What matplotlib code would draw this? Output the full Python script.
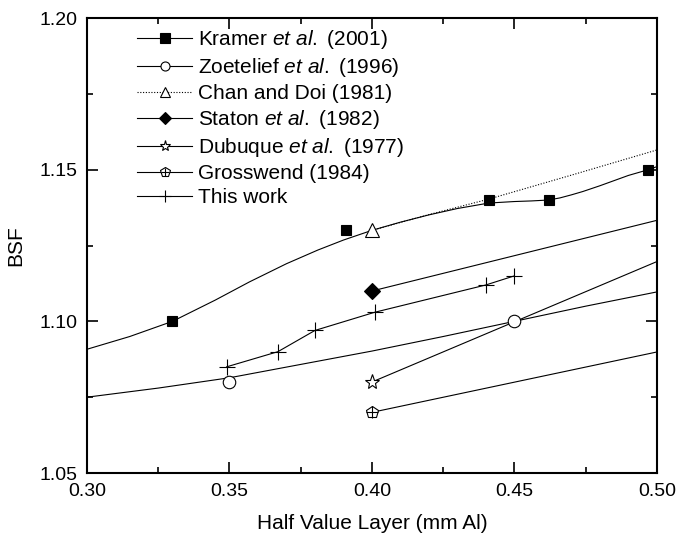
import numpy as np
import matplotlib
matplotlib.use("Agg")
import matplotlib.pyplot as plt
from matplotlib.ticker import MultipleLocator, FormatStrFormatter

plt.rcParams['font.family'] = ['Liberation Sans', 'DejaVu Sans']
plt.rcParams['mathtext.fontset'] = 'custom'
plt.rcParams['mathtext.it'] = 'Liberation Sans:italic'
plt.rcParams['mathtext.rm'] = 'Liberation Sans'

# measured points
kramer_x = [0.330, 0.391, 0.441, 0.462, 0.497]
kramer_y = [1.100, 1.130, 1.140, 1.140, 1.150]
zoet_x = [0.350, 0.450]
zoet_y = [1.080, 1.100]
chan_x = [0.400]
chan_y = [1.130]
staton_x = [0.400]
staton_y = [1.110]
dubuque_x = [0.400]
dubuque_y = [1.080]
gross_x = [0.400]
gross_y = [1.070]
work_x = [0.349, 0.367, 0.380, 0.401, 0.440, 0.450]
work_y = [1.085, 1.090, 1.097, 1.103, 1.112, 1.115]

# fitted curves
kramer_fit_x = [0.300, 0.315, 0.330, 0.345, 0.357, 0.370, 0.381, 0.390, 0.400, 0.410,
                0.420, 0.430, 0.441, 0.450, 0.456, 0.462, 0.466, 0.470, 0.474, 0.480,
                0.490, 0.497, 0.500]
kramer_fit_y = [1.0908, 1.0950, 1.1000, 1.1070, 1.1130, 1.1190, 1.1235, 1.1268, 1.1300, 1.1327,
                1.1351, 1.1372, 1.1390, 1.1395, 1.1397, 1.1400, 1.1407, 1.1417, 1.1428, 1.1447,
                1.1481, 1.1500, 1.1510]
zoet_fit_x = [0.300, 0.325, 0.350, 0.375, 0.400, 0.425, 0.450, 0.475, 0.500]
zoet_fit_y = [1.0750, 1.0780, 1.0814, 1.0858, 1.0902, 1.0950, 1.1000, 1.1050, 1.1097]
chan_fit_x = [0.400, 0.420, 0.441, 0.470, 0.500]
chan_fit_y = [1.1300, 1.1352, 1.1403, 1.1482, 1.1565]
staton_fit_x = [0.400, 0.500]
staton_fit_y = [1.1100, 1.1333]
dubuque_fit_x = [0.400, 0.500]
dubuque_fit_y = [1.0800, 1.1197]
gross_fit_x = [0.400, 0.500]
gross_fit_y = [1.0700, 1.0899]

fig = plt.figure(figsize=(6.76, 5.38), dpi=100)
ax = fig.add_axes([0.1287, 0.1208, 0.843, 0.8457])

lw = 0.8
ms_kw = dict(markeredgecolor='black', markeredgewidth=0.8)

ax.plot(kramer_fit_x, kramer_fit_y, color='black', lw=lw)
ax.plot(zoet_fit_x, zoet_fit_y, color='black', lw=lw)
ax.plot(chan_fit_x, chan_fit_y, color='black', lw=lw, ls=(0, (1, 1.5)))
ax.plot(staton_fit_x, staton_fit_y, color='black', lw=lw)
ax.plot(dubuque_fit_x, dubuque_fit_y, color='black', lw=lw)
ax.plot(gross_fit_x, gross_fit_y, color='black', lw=lw)
ax.plot(work_x, work_y, color='black', lw=lw)

ax.plot(kramer_x, kramer_y, 's', color='black', ms=7.5, **ms_kw)
ax.plot(zoet_x, zoet_y, 'o', mfc='white', ms=9, **ms_kw)
ax.plot(chan_x, chan_y, '^', mfc='white', ms=10, **ms_kw)
ax.plot(staton_x, staton_y, 'D', color='black', ms=8, **ms_kw)
ax.plot(dubuque_x, dubuque_y, '*', mfc='white', ms=11, **ms_kw)
ax.plot(gross_x, gross_y, 'p', mfc='white', ms=9, **ms_kw)
ax.plot(gross_x, gross_y, '+', color='black', ms=8, **ms_kw)
ax.plot(work_x, work_y, '+', color='black', ms=11, **ms_kw)

def leg(marker, mfc, ms, ls='-'):
    return plt.Line2D([], [], color='black', lw=lw, ls=ls, marker=marker,
                      mfc=mfc, mec='black', mew=0.8, ms=ms)

handles = [leg('s', 'black', 6.5),
           leg('o', 'white', 6.5),
           leg('^', 'white', 7.5, ls=(0, (1, 1.5))),
           leg('D', 'black', 6.5),
           leg('*', 'white', 8),
           (leg('p', 'white', 7), leg('+', 'black', 6, ls='none')),
           leg('+', 'black', 8)]
labels = [r'Kramer $et\ al.$ (2001)',
          r'Zoetelief $et\ al.$ (1996)',
          'Chan and Doi (1981)',
          r'Staton $et\ al.$ (1982)',
          r'Dubuque $et\ al.$ (1977)',
          'Grosswend (1984)',
          'This work']
ax.legend(handles, labels, loc='upper left', bbox_to_anchor=(0.063, 1.01),
          frameon=False, fontsize=15, handlelength=2.6, handletextpad=0.3,
          labelspacing=0.24, borderaxespad=0.3)

ax.set_xlim(0.30, 0.50)
ax.set_ylim(1.05, 1.20)
ax.xaxis.set_major_locator(MultipleLocator(0.05))
ax.xaxis.set_minor_locator(MultipleLocator(0.025))
ax.yaxis.set_major_locator(MultipleLocator(0.05))
ax.yaxis.set_minor_locator(MultipleLocator(0.025))
ax.xaxis.set_major_formatter(FormatStrFormatter('%.2f'))
ax.yaxis.set_major_formatter(FormatStrFormatter('%.2f'))
ax.tick_params(which='both', direction='in', top=True, right=True,
               labelsize=14, width=1.2)
ax.tick_params(which='major', length=8, pad=7)
ax.tick_params(which='minor', length=4)
for s in ax.spines.values():
    s.set_linewidth(1.5)

ax.set_xlabel('Half Value Layer (mm Al)', fontsize=15, labelpad=10)
ax.set_ylabel('BSF', fontsize=15, labelpad=10)

fig.savefig('out.png', dpi=100)
